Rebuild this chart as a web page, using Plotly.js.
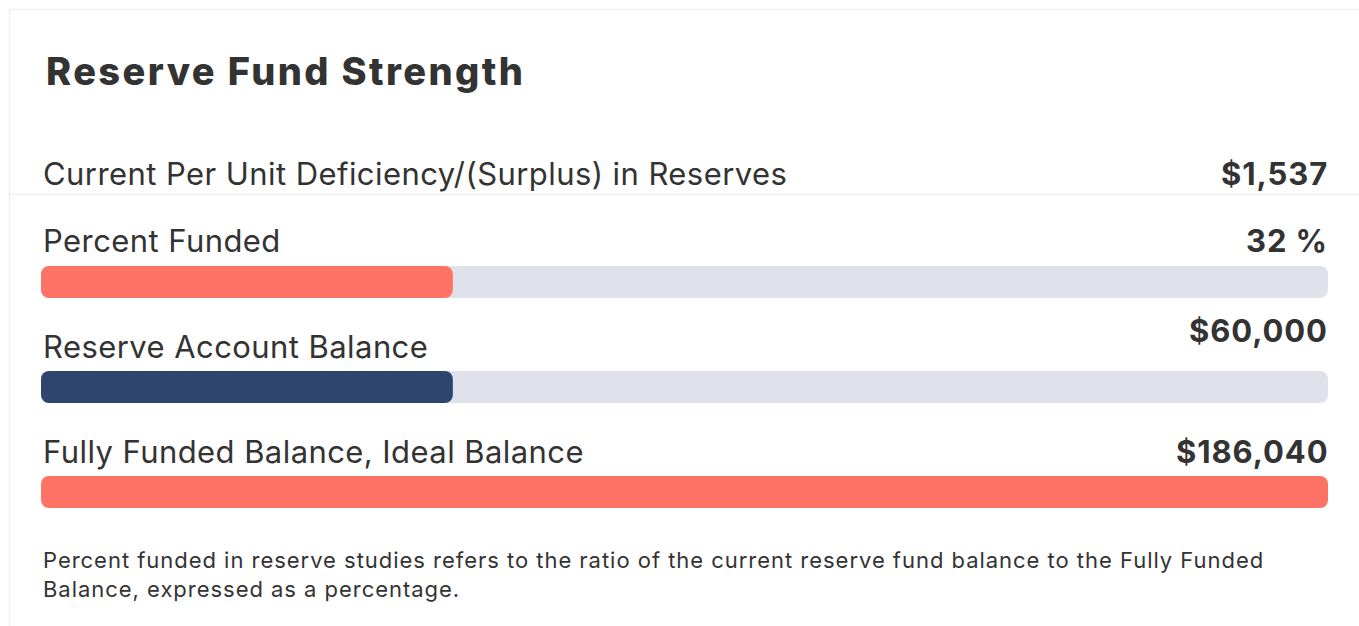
<!DOCTYPE html>
<html>
<head>
<meta charset="utf-8">
<script src="https://cdn.plot.ly/plotly-3.0.1.min.js"></script>
<style>
  html, body { margin: 0; padding: 0; background: #ffffff; }
  #chart { width: 1359px; height: 626px; }
</style>
</head>
<body>
<div id="chart"></div>
<script>
// ---- data ----
const chartTitle = "Reserve Fund Strength";
const deficiencyLabel = "Current Per Unit Deficiency/(Surplus) in Reserves";
const deficiencyPerUnit = 1537;
const barLabels = ["Percent Funded", "Reserve Account Balance", "Fully Funded Balance, Ideal Balance"];
const percentFunded = 32;            // %
const reserveBalance = 60000;        // $
const fullyFundedBalance = 186040;   // $
const footnote = "Percent funded in reserve studies refers to the ratio of the current reserve fund balance to the Fully Funded<br>Balance, expressed as a percentage.";

// ---- derived ----
const round2 = v => Math.round(v * 100) / 100;
const fractions = [percentFunded / 100, round2(reserveBalance / fullyFundedBalance), fullyFundedBalance / fullyFundedBalance];
const money = v => "$" + v.toLocaleString("en-US");
const valueTexts = [percentFunded + " %", money(reserveBalance), money(fullyFundedBalance)];
const barColors = ["#ff7366", "#2e4570", "#ff7366"];

// ---- layout helpers ----
const W = 1359, H = 626;
const px = x => x / W;
const py = y => 1 - y / H;
const textColor = "#333333";
const font = "Inter, 'Noto Sans', sans-serif";
const sp = (t, ls) => '<span style="letter-spacing:' + ls + 'px">' + t + '</span>';

// base: 0 set explicitly so that both ends of each bar are rounded
const track = {
  type: "bar", orientation: "h",
  y: barLabels, x: barLabels.map(() => 1), base: 0,
  marker: { color: "#dfe2ea", line: { width: 0 } },
  width: 0.305, hoverinfo: "skip", showlegend: false
};
const fill = {
  type: "bar", orientation: "h",
  y: barLabels, x: fractions, base: 0,
  marker: { color: barColors, line: { width: 0 } },
  width: 0.305, hoverinfo: "skip", showlegend: false
};

const labelShift = [42, 41, 41];
const valueShift = [42, 57, 41];

const annotations = [
  { text: sp(chartTitle, 2.4), xref: "paper", yref: "paper", x: px(44), y: py(71),
    xanchor: "left", yanchor: "middle", showarrow: false,
    font: { family: font, size: 38, weight: 800, color: textColor } },
  { text: sp(deficiencyLabel, 0.43), xref: "paper", yref: "paper", x: px(41), y: py(173),
    xanchor: "left", yanchor: "middle", showarrow: false,
    font: { family: font, size: 31, color: textColor } },
  { text: "<b>" + sp(money(deficiencyPerUnit), 0.9) + "</b>", xref: "paper", yref: "paper", x: px(1330), y: py(173),
    xanchor: "right", yanchor: "middle", showarrow: false,
    font: { family: font, size: 31, color: textColor } },
  { text: sp(footnote, 0.97), xref: "paper", yref: "paper", x: px(41), y: py(574),
    xanchor: "left", yanchor: "middle", align: "left", showarrow: false,
    font: { family: font, size: 22, color: textColor } }
];
barLabels.forEach((lab, i) => {
  annotations.push({ text: sp(lab, 0.43), xref: "paper", yref: "y", x: px(41), y: lab, yshift: labelShift[i],
    xanchor: "left", yanchor: "middle", showarrow: false,
    font: { family: font, size: 31, color: textColor } });
  annotations.push({ text: "<b>" + sp(valueTexts[i], 0.9) + "</b>", xref: "paper", yref: "y", x: px(1330), y: lab, yshift: valueShift[i],
    xanchor: "right", yanchor: "middle", showarrow: false,
    font: { family: font, size: 31, color: textColor } });
});

const borderColor = "#eef0f4";
const layout = {
  width: W, height: H,
  margin: { l: 0, r: 0, t: 0, b: 0 },
  paper_bgcolor: "#ffffff", plot_bgcolor: "rgba(0,0,0,0)",
  barmode: "overlay",
  barcornerradius: 8,
  showlegend: false,
  xaxis: { domain: [px(41), px(1328)], range: [0, 1], visible: false, fixedrange: true },
  yaxis: { domain: [py(544.5), py(229.5)], type: "category", range: [2.5, -0.5],
           visible: false, fixedrange: true },
  shapes: [
    { type: "line", xref: "paper", yref: "paper", x0: px(9.5), x1: px(9.5), y0: py(9.5), y1: 0,
      line: { color: borderColor, width: 1.5 } },
    { type: "line", xref: "paper", yref: "paper", x0: px(9.5), x1: 1, y0: py(9.5), y1: py(9.5),
      line: { color: borderColor, width: 1.5 } },
    { type: "line", xref: "paper", yref: "paper", x0: px(10), x1: 1, y0: py(194.5), y1: py(194.5),
      line: { color: borderColor, width: 1.5 } }
  ],
  annotations: annotations
};

Plotly.newPlot("chart", [track, fill], layout, { displayModeBar: false, staticPlot: true });
</script>
</body>
</html>
